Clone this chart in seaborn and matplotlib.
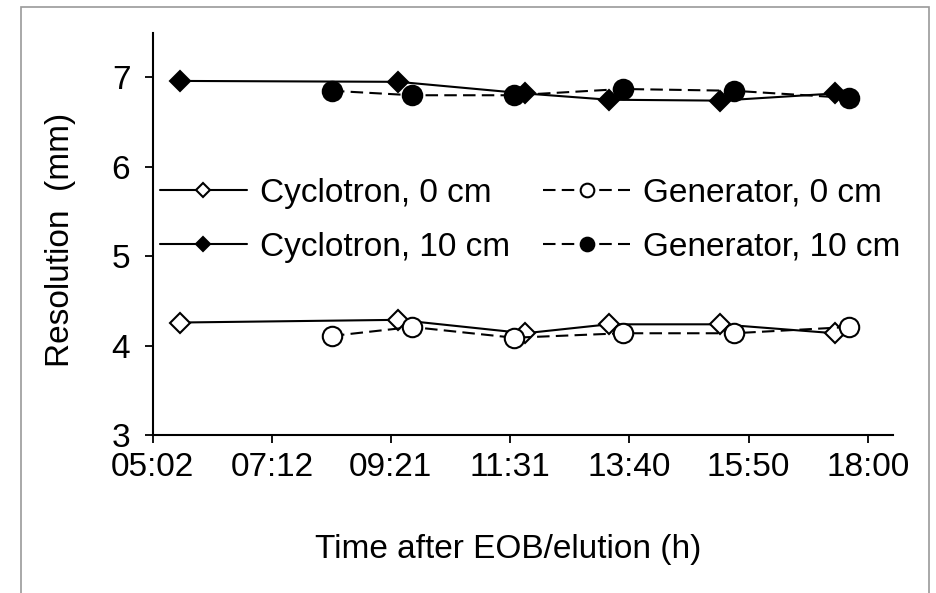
import numpy as np
import pandas as pd
import matplotlib
matplotlib.use('Agg')
import matplotlib.pyplot as plt
import seaborn as sns
from matplotlib.patches import Rectangle

# times (hh:mm after EOB / elution)
cyc_times = ['05:32', '09:29', '11:47', '13:18', '15:19', '17:24']
gen_times = ['08:17', '09:44', '11:35', '13:33', '15:34', '17:39']
cyc_0cm = [4.26, 4.29, 4.14, 4.24, 4.24, 4.14]
cyc_10cm = [6.96, 6.95, 6.82, 6.75, 6.74, 6.82]
gen_0cm = [4.11, 4.21, 4.09, 4.14, 4.14, 4.21]
gen_10cm = [6.85, 6.80, 6.80, 6.87, 6.85, 6.77]
tick_labels = ['05:02', '07:12', '09:21', '11:31', '13:40', '15:50', '18:00']
y_ticks = [3, 4, 5, 6, 7]


def to_min(s):
    h, m = s.split(':')
    return int(h) * 60 + int(m)


cyc_x = [to_min(t) for t in cyc_times]
gen_x = [to_min(t) for t in gen_times]
x_ticks = [to_min(t) for t in tick_labels]

sns.set_style('ticks')
plt.rcParams['font.family'] = ['Liberation Sans', 'DejaVu Sans']
plt.rcParams.update({'axes.edgecolor': 'black', 'text.color': 'black',
                     'axes.labelcolor': 'black', 'xtick.color': 'black',
                     'ytick.color': 'black'})
fs = 24

fig = plt.figure(figsize=(9.36, 5.93), dpi=100)
ax = fig.add_axes([0.163, 0.266, 0.791, 0.679])

dash = (0, (6, 3))
series = [
    ('Cyclotron, 0 cm', cyc_x, cyc_0cm, 'D', 'white', '-', 10),
    ('Cyclotron, 10 cm', cyc_x, cyc_10cm, 'D', 'black', '-', 10),
    ('Generator, 0 cm', gen_x, gen_0cm, 'o', 'white', dash, 14),
    ('Generator, 10 cm', gen_x, gen_10cm, 'o', 'black', dash, 14),
]
handles = []
for label, x, y, mk, fc, ls, ms in series:
    sns.lineplot(x=x, y=y, ax=ax, color='black', marker=mk, markerfacecolor=fc,
                 markeredgecolor='black', markersize=ms, markeredgewidth=1.5,
                 linestyle=ls, linewidth=1.5)
    line = ax.lines[-1]
    line.set_label(label)
    handles.append(line)

ax.set_xlim(302, 1107)
ax.set_ylim(3, 7.5)
ax.set_xticks(x_ticks)
ax.set_xticklabels(tick_labels)
ax.set_yticks(y_ticks)
ax.tick_params(axis='both', labelsize=fs, width=1.3, length=6, color='black',
               labelcolor='black')
ax.tick_params(axis='y', pad=10)
ax.tick_params(axis='x', pad=6)
for side in ['top', 'right']:
    ax.spines[side].set_visible(False)
for side in ['left', 'bottom']:
    ax.spines[side].set_linewidth(1.5)

ax.set_ylabel('Resolution  (mm)', fontsize=fs, color='black')
ax.set_xlabel('Time after EOB/elution (h)', fontsize=fs, color='black')
ax.yaxis.set_label_coords(-0.104, 0.485)
ax.xaxis.set_label_coords(0.48, -0.245)

ax.legend(handles=handles, labels=[h.get_label() for h in handles], ncol=2,
          loc='center left', bbox_to_anchor=(0.01, 0.534), frameon=False,
          fontsize=fs, handlelength=2.6, handletextpad=0.4, columnspacing=1.0,
          labelspacing=0.7, borderpad=0, borderaxespad=0, markerscale=0.7)

fig.patches.append(Rectangle((0.0224, -0.05), 0.9703, 1.038, transform=fig.transFigure,
                             fill=False, edgecolor='#999999', lw=1.2))

fig.savefig('out.png', dpi=100)
